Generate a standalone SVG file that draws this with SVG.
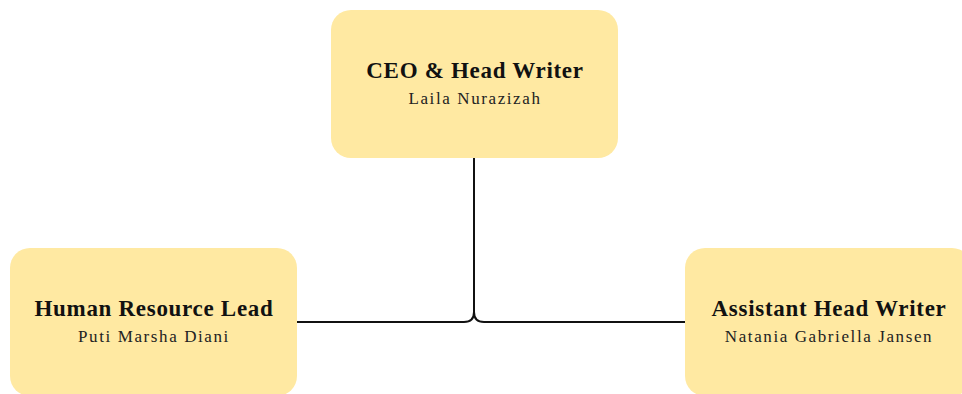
<svg xmlns="http://www.w3.org/2000/svg" width="962" height="394" viewBox="0 0 962 394">
<style>
.box{fill:#FFE9A2}
.t{font-family:"Liberation Serif",serif;font-weight:bold;font-size:23px;fill:#111;text-anchor:middle;letter-spacing:0.7px}
.n{font-family:"Liberation Serif",serif;font-size:17px;fill:#222;text-anchor:middle;letter-spacing:1.6px}
.c{fill:none;stroke:#111;stroke-width:2}
</style>
<rect width="962" height="394" fill="#fff"/>
<g id="connectors">
<path class="c" d="M474 158 V312 Q474 322 464 322 H297"/>
<path class="c" d="M474 312 Q474 322 484 322 H685"/>
</g>
<g id="ceo">
<rect class="box" x="331" y="10" width="287" height="148" rx="20"/>
<text class="t" x="475" y="78">CEO &amp; Head Writer</text>
<text class="n" x="475" y="104">Laila Nurazizah</text>
</g>
<g id="hr">
<rect class="box" x="10" y="248" width="287" height="148" rx="20"/>
<text class="t" x="154" y="316">Human Resource Lead</text>
<text class="n" x="154" y="342">Puti Marsha Diani</text>
</g>
<g id="ahw">
<rect class="box" x="685" y="248" width="287" height="148" rx="20"/>
<text class="t" x="829" y="316">Assistant Head Writer</text>
<text class="n" x="829" y="342">Natania Gabriella Jansen</text>
</g>
</svg>
